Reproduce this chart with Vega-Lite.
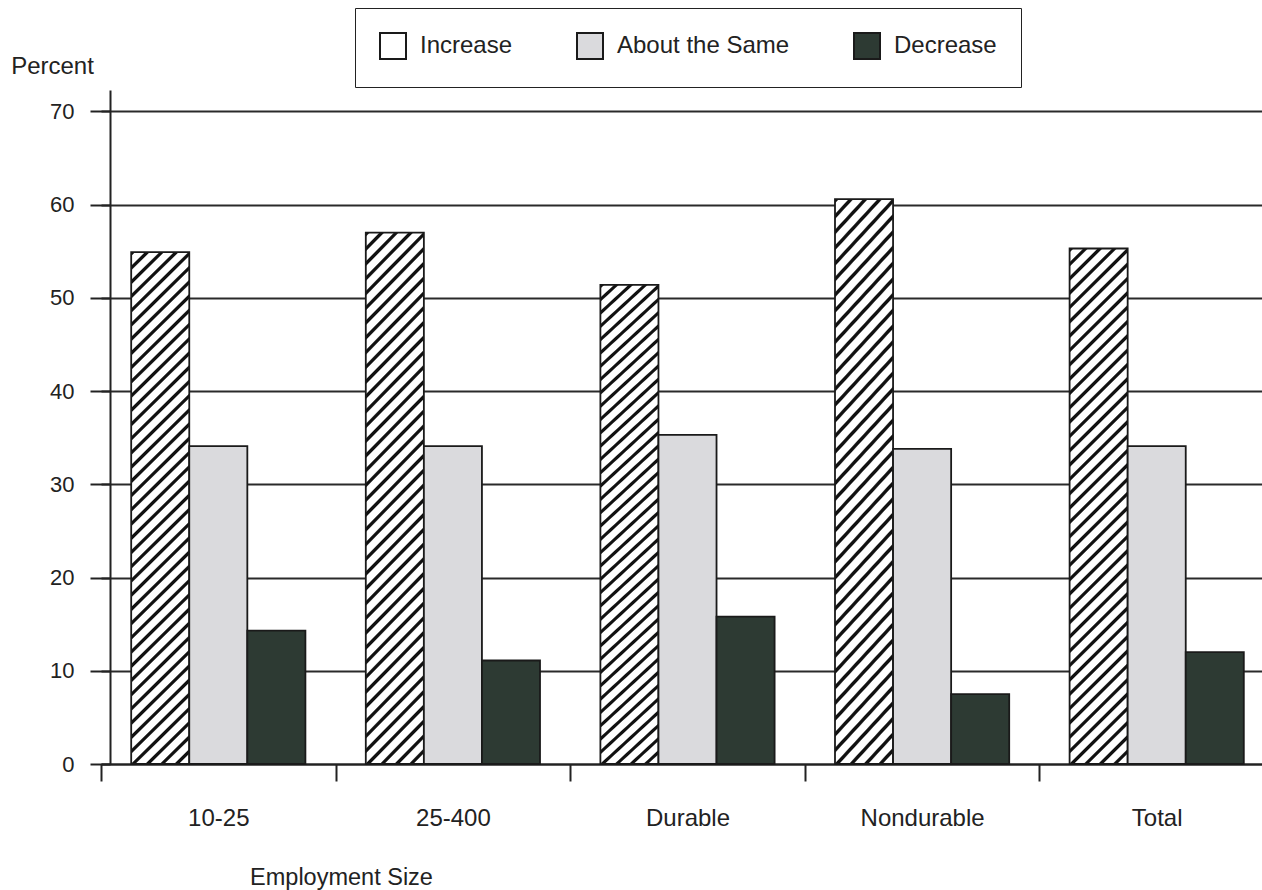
{
  "$schema": "https://vega.github.io/schema/vega-lite/v6.json",
  "autosize": {"type": "none"},
  "width": 1152,
  "height": 674,
  "padding": {"left": 110, "top": 90, "right": 0, "bottom": 126},
  "background": "#ffffff",
  "config": {
    "font": "Liberation Sans",
    "view": {"stroke": null}
  },
  "data": {
    "values": [
      {"Group": "10-25", "Response": "Increase", "Percent": 54.9},
      {"Group": "10-25", "Response": "About the Same", "Percent": 34.1},
      {"Group": "10-25", "Response": "Decrease", "Percent": 14.3},
      {"Group": "25-400", "Response": "Increase", "Percent": 57.0},
      {"Group": "25-400", "Response": "About the Same", "Percent": 34.1},
      {"Group": "25-400", "Response": "Decrease", "Percent": 11.1},
      {"Group": "Durable", "Response": "Increase", "Percent": 51.4},
      {"Group": "Durable", "Response": "About the Same", "Percent": 35.3},
      {"Group": "Durable", "Response": "Decrease", "Percent": 15.8},
      {"Group": "Nondurable", "Response": "Increase", "Percent": 60.6},
      {"Group": "Nondurable", "Response": "About the Same", "Percent": 33.8},
      {"Group": "Nondurable", "Response": "Decrease", "Percent": 7.5},
      {"Group": "Total", "Response": "Increase", "Percent": 55.3},
      {"Group": "Total", "Response": "About the Same", "Percent": 34.1},
      {"Group": "Total", "Response": "Decrease", "Percent": 12.0}
    ]
  },
  "mark": {"type": "bar", "stroke": "#1a1a1a", "strokeWidth": 1.8},
  "encoding": {
    "x": {
      "field": "Group",
      "type": "nominal",
      "sort": null,
      "scale": {"range": [-9, 1164], "paddingInner": 0, "paddingOuter": 0},
      "axis": {
        "title": "Employment Size",
        "titleX": 231,
        "titleY": 113,
        "titleAlign": "center",
        "titleBaseline": "middle",
        "titleFontSize": 23.5,
        "titleFontWeight": "normal",
        "titleColor": "#222222",
        "labelAngle": 0,
        "labelFontSize": 24,
        "labelColor": "#222222",
        "labelPadding": 25,
        "tickBand": "extent",
        "tickSize": 17,
        "tickWidth": 2,
        "tickColor": "#222222",
        "domainColor": "#222222",
        "domainWidth": 2,
        "grid": false
      }
    },
    "xOffset": {
      "field": "Response",
      "type": "nominal",
      "sort": ["Increase", "About the Same", "Decrease"],
      "scale": {"paddingInner": 0, "paddingOuter": 0.52}
    },
    "y": {
      "field": "Percent",
      "type": "quantitative",
      "scale": {"domain": [0, 72.3], "nice": false, "zero": true},
      "axis": {
        "title": "Percent",
        "titleAngle": 0,
        "titleX": -58,
        "titleY": -24,
        "titleAlign": "center",
        "titleBaseline": "middle",
        "titleFontSize": 24,
        "titleFontWeight": "normal",
        "titleColor": "#222222",
        "values": [0, 10, 20, 30, 40, 50, 60, 70],
        "grid": true,
        "gridColor": "#2a2a2a",
        "gridWidth": 2,
        "domainColor": "#222222",
        "domainWidth": 2,
        "tickColor": "#222222",
        "tickWidth": 2,
        "tickSize": 20,
        "labelFontSize": 22,
        "labelPadding": 16,
        "labelColor": "#222222"
      }
    },
    "fill": {
      "field": "Response",
      "type": "nominal",
      "sort": ["Increase", "About the Same", "Decrease"],
      "scale": {
        "domain": ["Increase", "About the Same", "Decrease"],
        "range": ["#ffffff", "#dadadd", "#2d3a33"]
      },
      "condition": {
        "test": "datum.Response === 'Increase'",
        "value": {
          "gradient": "linear", "x1": 0, "y1": 0, "x2": 0.1224, "y2": 1.0979,
          "stops": [
            {"offset": 0, "color": "#111111"}, {"offset": 0.0055, "color": "#111111"}, {"offset": 0.008, "color": "#ffffff"}, {"offset": 0.0225, "color": "#ffffff"},
            {"offset": 0.025, "color": "#111111"}, {"offset": 0.0305, "color": "#111111"}, {"offset": 0.033, "color": "#ffffff"}, {"offset": 0.0475, "color": "#ffffff"},
            {"offset": 0.05, "color": "#111111"}, {"offset": 0.0555, "color": "#111111"}, {"offset": 0.058, "color": "#ffffff"}, {"offset": 0.0725, "color": "#ffffff"},
            {"offset": 0.075, "color": "#111111"}, {"offset": 0.0805, "color": "#111111"}, {"offset": 0.083, "color": "#ffffff"}, {"offset": 0.0975, "color": "#ffffff"},
            {"offset": 0.1, "color": "#111111"}, {"offset": 0.1055, "color": "#111111"}, {"offset": 0.108, "color": "#ffffff"}, {"offset": 0.1225, "color": "#ffffff"},
            {"offset": 0.125, "color": "#111111"}, {"offset": 0.1305, "color": "#111111"}, {"offset": 0.133, "color": "#ffffff"}, {"offset": 0.1475, "color": "#ffffff"},
            {"offset": 0.15, "color": "#111111"}, {"offset": 0.1555, "color": "#111111"}, {"offset": 0.158, "color": "#ffffff"}, {"offset": 0.1725, "color": "#ffffff"},
            {"offset": 0.175, "color": "#111111"}, {"offset": 0.1805, "color": "#111111"}, {"offset": 0.183, "color": "#ffffff"}, {"offset": 0.1975, "color": "#ffffff"},
            {"offset": 0.2, "color": "#111111"}, {"offset": 0.2055, "color": "#111111"}, {"offset": 0.208, "color": "#ffffff"}, {"offset": 0.2225, "color": "#ffffff"},
            {"offset": 0.225, "color": "#111111"}, {"offset": 0.2305, "color": "#111111"}, {"offset": 0.233, "color": "#ffffff"}, {"offset": 0.2475, "color": "#ffffff"},
            {"offset": 0.25, "color": "#111111"}, {"offset": 0.2555, "color": "#111111"}, {"offset": 0.258, "color": "#ffffff"}, {"offset": 0.2725, "color": "#ffffff"},
            {"offset": 0.275, "color": "#111111"}, {"offset": 0.2805, "color": "#111111"}, {"offset": 0.283, "color": "#ffffff"}, {"offset": 0.2975, "color": "#ffffff"},
            {"offset": 0.3, "color": "#111111"}, {"offset": 0.3055, "color": "#111111"}, {"offset": 0.308, "color": "#ffffff"}, {"offset": 0.3225, "color": "#ffffff"},
            {"offset": 0.325, "color": "#111111"}, {"offset": 0.3305, "color": "#111111"}, {"offset": 0.333, "color": "#ffffff"}, {"offset": 0.3475, "color": "#ffffff"},
            {"offset": 0.35, "color": "#111111"}, {"offset": 0.3555, "color": "#111111"}, {"offset": 0.358, "color": "#ffffff"}, {"offset": 0.3725, "color": "#ffffff"},
            {"offset": 0.375, "color": "#111111"}, {"offset": 0.3805, "color": "#111111"}, {"offset": 0.383, "color": "#ffffff"}, {"offset": 0.3975, "color": "#ffffff"},
            {"offset": 0.4, "color": "#111111"}, {"offset": 0.4055, "color": "#111111"}, {"offset": 0.408, "color": "#ffffff"}, {"offset": 0.4225, "color": "#ffffff"},
            {"offset": 0.425, "color": "#111111"}, {"offset": 0.4305, "color": "#111111"}, {"offset": 0.433, "color": "#ffffff"}, {"offset": 0.4475, "color": "#ffffff"},
            {"offset": 0.45, "color": "#111111"}, {"offset": 0.4555, "color": "#111111"}, {"offset": 0.458, "color": "#ffffff"}, {"offset": 0.4725, "color": "#ffffff"},
            {"offset": 0.475, "color": "#111111"}, {"offset": 0.4805, "color": "#111111"}, {"offset": 0.483, "color": "#ffffff"}, {"offset": 0.4975, "color": "#ffffff"},
            {"offset": 0.5, "color": "#111111"}, {"offset": 0.5055, "color": "#111111"}, {"offset": 0.508, "color": "#ffffff"}, {"offset": 0.5225, "color": "#ffffff"},
            {"offset": 0.525, "color": "#111111"}, {"offset": 0.5305, "color": "#111111"}, {"offset": 0.533, "color": "#ffffff"}, {"offset": 0.5475, "color": "#ffffff"},
            {"offset": 0.55, "color": "#111111"}, {"offset": 0.5555, "color": "#111111"}, {"offset": 0.558, "color": "#ffffff"}, {"offset": 0.5725, "color": "#ffffff"},
            {"offset": 0.575, "color": "#111111"}, {"offset": 0.5805, "color": "#111111"}, {"offset": 0.583, "color": "#ffffff"}, {"offset": 0.5975, "color": "#ffffff"},
            {"offset": 0.6, "color": "#111111"}, {"offset": 0.6055, "color": "#111111"}, {"offset": 0.608, "color": "#ffffff"}, {"offset": 0.6225, "color": "#ffffff"},
            {"offset": 0.625, "color": "#111111"}, {"offset": 0.6305, "color": "#111111"}, {"offset": 0.633, "color": "#ffffff"}, {"offset": 0.6475, "color": "#ffffff"},
            {"offset": 0.65, "color": "#111111"}, {"offset": 0.6555, "color": "#111111"}, {"offset": 0.658, "color": "#ffffff"}, {"offset": 0.6725, "color": "#ffffff"},
            {"offset": 0.675, "color": "#111111"}, {"offset": 0.6805, "color": "#111111"}, {"offset": 0.683, "color": "#ffffff"}, {"offset": 0.6975, "color": "#ffffff"},
            {"offset": 0.7, "color": "#111111"}, {"offset": 0.7055, "color": "#111111"}, {"offset": 0.708, "color": "#ffffff"}, {"offset": 0.7225, "color": "#ffffff"},
            {"offset": 0.725, "color": "#111111"}, {"offset": 0.7305, "color": "#111111"}, {"offset": 0.733, "color": "#ffffff"}, {"offset": 0.7475, "color": "#ffffff"},
            {"offset": 0.75, "color": "#111111"}, {"offset": 0.7555, "color": "#111111"}, {"offset": 0.758, "color": "#ffffff"}, {"offset": 0.7725, "color": "#ffffff"},
            {"offset": 0.775, "color": "#111111"}, {"offset": 0.7805, "color": "#111111"}, {"offset": 0.783, "color": "#ffffff"}, {"offset": 0.7975, "color": "#ffffff"},
            {"offset": 0.8, "color": "#111111"}, {"offset": 0.8055, "color": "#111111"}, {"offset": 0.808, "color": "#ffffff"}, {"offset": 0.8225, "color": "#ffffff"},
            {"offset": 0.825, "color": "#111111"}, {"offset": 0.8305, "color": "#111111"}, {"offset": 0.833, "color": "#ffffff"}, {"offset": 0.8475, "color": "#ffffff"},
            {"offset": 0.85, "color": "#111111"}, {"offset": 0.8555, "color": "#111111"}, {"offset": 0.858, "color": "#ffffff"}, {"offset": 0.8725, "color": "#ffffff"},
            {"offset": 0.875, "color": "#111111"}, {"offset": 0.8805, "color": "#111111"}, {"offset": 0.883, "color": "#ffffff"}, {"offset": 0.8975, "color": "#ffffff"},
            {"offset": 0.9, "color": "#111111"}, {"offset": 0.9055, "color": "#111111"}, {"offset": 0.908, "color": "#ffffff"}, {"offset": 0.9225, "color": "#ffffff"},
            {"offset": 0.925, "color": "#111111"}, {"offset": 0.9305, "color": "#111111"}, {"offset": 0.933, "color": "#ffffff"}, {"offset": 0.9475, "color": "#ffffff"},
            {"offset": 0.95, "color": "#111111"}, {"offset": 0.9555, "color": "#111111"}, {"offset": 0.958, "color": "#ffffff"}, {"offset": 0.9725, "color": "#ffffff"},
            {"offset": 0.975, "color": "#111111"}, {"offset": 0.9805, "color": "#111111"}, {"offset": 0.983, "color": "#ffffff"}, {"offset": 0.9975, "color": "#ffffff"},
            {"offset": 1, "color": "#111111"}
          ]
        }
      },
      "legend": {
        "title": null,
        "orient": "none",
        "legendX": 245,
        "legendY": -82,
        "direction": "horizontal",
        "padding": 24,
        "strokeColor": "#222222",
        "columnPadding": 60,
        "symbolType": "square",
        "symbolSize": 676,
        "symbolStrokeWidth": 2,
        "symbolOpacity": 1,
        "labelFontSize": 24,
        "labelLimit": 400,
        "labelColor": "#222222",
        "labelOffset": 13
      }
    }
  }
}
